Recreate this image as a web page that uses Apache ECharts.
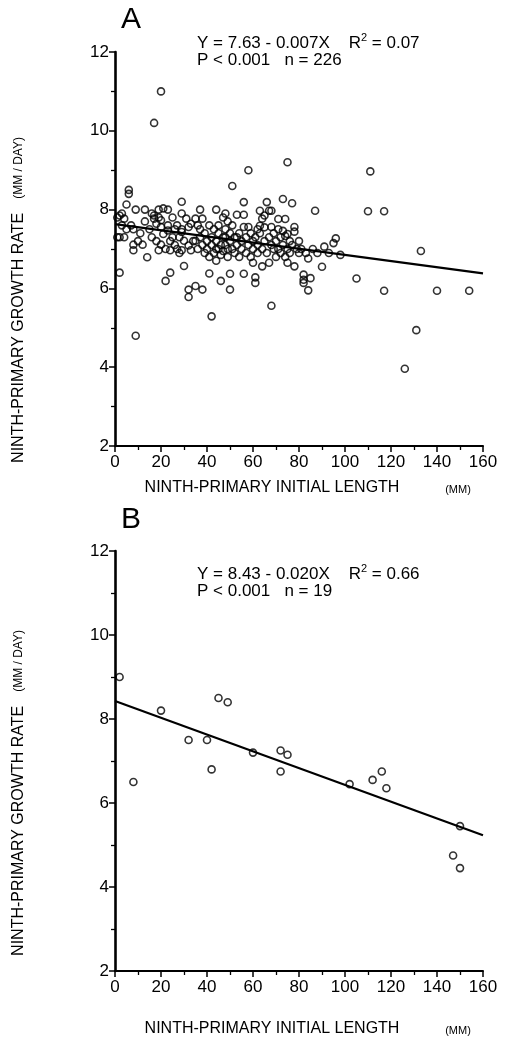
<!DOCTYPE html>
<html><head><meta charset="utf-8">
<script src="https://cdn.jsdelivr.net/npm/echarts@6/dist/echarts.min.js"></script>
<style>html,body{margin:0;padding:0;background:#fff}#c{width:531px;height:1043px}</style>
</head><body><div id="c"></div>
<script>
// Panel A data (n = 226)
const aX = [1,1,2,2,2,3,3,4,4,5,5,6,6,7,8,8,8,9,9,10,
 11,12,13,13,14,15,16,16,17,17,17,18,18,19,19,19,20,20,20,20,21,21,22,22,23,23,23,24,24,24,25,25,26,26,27,27,28,28,29,29,29,29,29,30,30,
 31,32,32,32,32,33,33,34,35,35,35,36,37,37,37,38,38,38,39,39,40,40,41,41,41,42,42,42,43,43,44,44,44,45,45,45,46,46,46,47,47,47,48,48,48,48,49,49,49,50,50,50,50,36,44,
 51,51,51,52,52,53,53,54,54,55,55,56,56,56,56,57,57,58,58,58,59,59,60,60,60,61,61,61,62,62,63,63,63,64,64,64,65,65,65,66,66,67,67,67,68,68,68,68,69,69,70,70,53,62,
 71,71,72,72,73,73,73,74,74,74,75,75,75,75,76,76,77,77,78,78,78,79,80,80,81,82,82,82,83,84,84,85,86,87,88,71,
 90,91,93,95,96,98,105,110,111,117,117,126,131,133,140,154];
const aY = [7.8,7.3,7.85,7.3,6.4,7.9,7.6,7.77,7.3,8.13,7.5,8.5,8.4,7.6,7.11,6.97,7.5,8.0,4.8,7.2,
 7.4,7.11,8.0,7.7,6.79,7.5,7.9,7.3,7.77,10.2,7.85,7.64,7.2,7.8,8.0,6.97,11.0,7.56,7.73,7.11,7.38,8.03,6.19,7.0,8.0,7.6,7.47,6.97,6.4,7.2,7.3,7.8,7.1,7.5,7.0,7.6,7.3,6.9,7.5,8.2,7.9,7.43,6.97,7.21,6.57,
 7.77,7.56,7.09,5.97,5.78,7.64,6.97,7.2,7.77,7.21,6.06,7.0,8.0,7.3,7.5,7.77,5.97,7.1,6.9,7.4,7.2,7.0,6.38,7.6,6.8,5.29,7.3,7.1,6.9,7.5,8.0,7.2,6.7,7.0,7.4,7.6,6.19,7.1,6.85,7.3,7.8,6.95,7.9,7.5,7.1,7.3,6.8,7.7,7.0,5.97,6.37,7.2,7.4,7.6,7.0,
 8.6,7.0,7.6,7.3,6.9,7.87,7.1,7.4,6.8,7.2,7.0,8.19,7.87,7.56,6.37,7.3,6.9,9.0,7.56,7.1,7.4,6.8,6.65,7.2,7.0,6.28,6.14,7.3,7.1,6.9,7.97,7.59,7.4,7.77,6.56,7.0,7.85,7.55,7.2,8.19,6.9,7.97,6.65,7.3,7.97,5.56,7.56,7.1,7.0,7.4,6.8,7.2,7.3,7.5,
 7.76,7.0,7.3,6.9,8.27,7.46,7.1,7.76,7.33,6.8,9.2,7.38,6.65,7.0,7.2,6.9,8.16,7.1,7.56,7.44,6.56,7.0,7.2,6.9,7.0,6.35,6.22,6.14,6.9,6.76,5.95,6.26,7.0,7.97,6.9,7.5,
 6.55,7.06,6.9,7.15,7.27,6.85,6.25,7.96,8.97,7.96,5.94,3.96,4.94,6.95,5.94,5.94];
// Panel B data (n = 19)
const bX = [2,8,20,32,40,42,45,49,60,72,75,72,102,112,116,118,147,150,150];
const bY = [9.0,6.5,8.2,7.5,7.5,6.8,8.5,8.4,7.2,7.25,7.15,6.75,6.45,6.55,6.75,6.35,4.75,4.45,5.45];
// Fitted lines as drawn
const fitAX = [0,160], fitAY = [7.63,6.38];
const fitBX = [0,160], fitBY = [8.43,5.23];
const xTicks = {min:0,max:160,step:20};
const yTicks = {min:2,max:12,step:2};
const eqA = ['Y = 7.63 - 0.007X    R', '2', ' = 0.07', 'P < 0.001   n = 226'];
const eqB = ['Y = 8.43 - 0.020X    R', '2', ' = 0.66', 'P < 0.001   n = 19'];
const xTitle = ['NINTH-PRIMARY INITIAL LENGTH', '(MM)'];
const yTitle = ['NINTH-PRIMARY GROWTH RATE', '(MM / DAY)'];

const FF = 'Liberation Sans, Arial, Helvetica, sans-serif';
const pairs = (xs, ys) => xs.map((x,i)=>[x, ys[i]]);

function xAx(gi){ return {gridIndex:gi,type:'value',min:xTicks.min,max:xTicks.max,interval:xTicks.step,
  axisLine:{show:true,onZero:false,lineStyle:{color:'#000',width:2}},
  axisTick:{show:true,length:6,lineStyle:{color:'#000',width:1.5}},
  minorTick:{show:true,splitNumber:2,length:4,lineStyle:{color:'#000',width:1.3}},
  splitLine:{show:false},minorSplitLine:{show:false},
  axisLabel:{color:'#000',fontSize:17,fontFamily:FF,margin:8}}; }
function yAx(gi){ return {gridIndex:gi,type:'value',min:yTicks.min,max:yTicks.max,interval:yTicks.step,
  axisLine:{show:true,onZero:false,lineStyle:{color:'#000',width:2.6}},
  axisTick:{show:true,length:6,lineStyle:{color:'#000',width:1.5}},
  minorTick:{show:true,splitNumber:2,length:4,lineStyle:{color:'#000',width:1.3}},
  splitLine:{show:false},minorSplitLine:{show:false},
  axisLabel:{color:'#000',fontSize:17,fontFamily:FF,margin:6}}; }
function sc(gi, xs, ys){ return {type:'scatter',xAxisIndex:gi,yAxisIndex:gi,data:pairs(xs,ys),symbol:'circle',symbolSize:7,
  itemStyle:{color:'rgba(0,0,0,0)',borderColor:'#000',borderWidth:1.6},emphasis:{disabled:true},silent:true}; }
function ln(gi, xs, ys){ return {type:'line',xAxisIndex:gi,yAxisIndex:gi,data:pairs(xs,ys),showSymbol:false,
  lineStyle:{color:'#000',width:2.2},emphasis:{disabled:true},silent:true,z:3}; }

function txt(x,y,text,size,align,extra){ return Object.assign({type:'text',x:x,y:y,silent:true,
  style:{text:text,fill:'#000',fontSize:size,fontFamily:FF,align:align||'left',verticalAlign:'middle',
  textAlign:align||'left',textVerticalAlign:'middle'}}, extra||{}); }
function eq(x,y,e){ return [
  {type:'text',x:x,y:y,silent:true,style:{text:'{t|'+e[0]+'}{s|'+e[1]+'}{t|'+e[2]+'}',fill:'#000',fontFamily:FF,
    align:'left',verticalAlign:'middle',textAlign:'left',textVerticalAlign:'middle',
    rich:{t:{fontSize:17,fontFamily:FF,fill:'#000'},s:{fontSize:11,fontFamily:FF,fill:'#000',padding:[0,0,11,0]}}}},
  txt(x,y+17,e[3],17,'left')]; }
function yT(x,y){ return {type:'text',x:x,y:y,rotation:Math.PI/2,silent:true,
  style:{text:'{a|'+yTitle[0]+'}{b|'+yTitle[1]+'}',fill:'#000',fontFamily:FF,align:'center',verticalAlign:'middle',
  textAlign:'center',textVerticalAlign:'middle',
  rich:{a:{fontSize:16,fontFamily:FF,fill:'#000'},b:{fontSize:12,fontFamily:FF,fill:'#000',padding:[0,0,0,14]}}}}; }

const chart = echarts.init(document.getElementById('c'),null,{renderer:'canvas'});
chart.setOption({
  animation:false,backgroundColor:'#fff',
  grid:[{left:115,width:368,top:52,height:394},{left:115,width:368,top:551,height:420}],
  xAxis:[xAx(0),xAx(1)], yAxis:[yAx(0),yAx(1)],
  series:[sc(0,aX,aY),ln(0,fitAX,fitAY),sc(1,bX,bY),ln(1,fitBX,fitBY)],
  graphic:{elements:[
    txt(131,20,'A',30,'center'),
    ...eq(197,43,eqA),
    txt(272,488,xTitle[0],16,'center'),
    txt(458,490,xTitle[1],11,'center'),
    yT(19,300),
    txt(131,520,'B',30,'center'),
    ...eq(197,574,eqB),
    txt(272,1029,xTitle[0],16,'center'),
    txt(458,1031,xTitle[1],11,'center'),
    yT(19,793)
  ]}
});
</script></body></html>
